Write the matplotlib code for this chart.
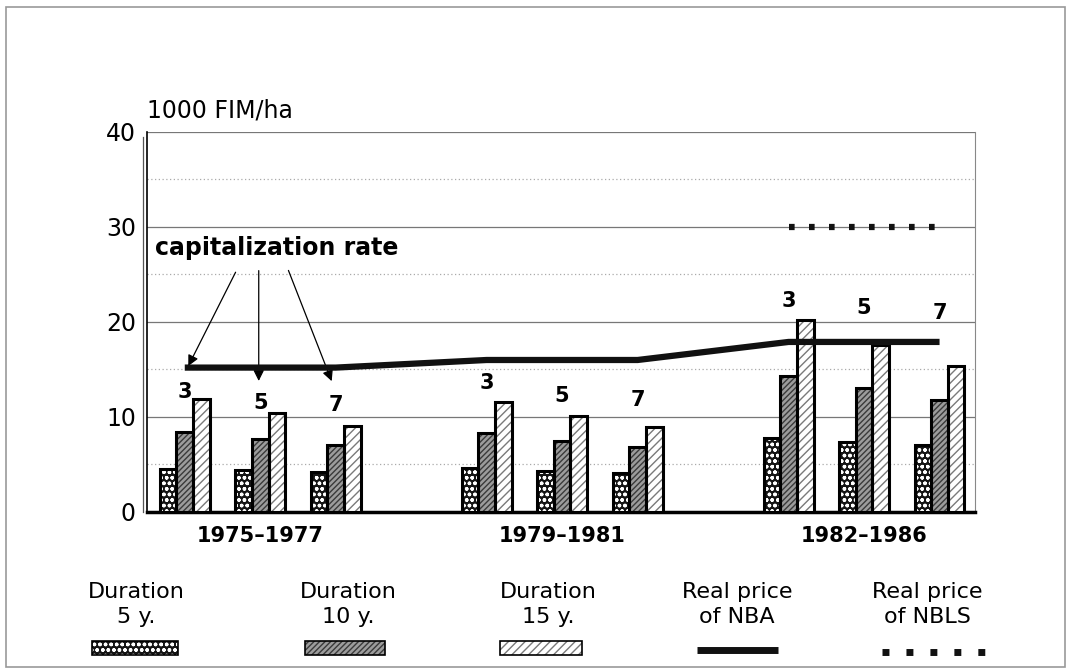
import numpy as np
import matplotlib.pyplot as plt
from matplotlib.patches import Rectangle
from matplotlib.lines import Line2D

# slot positions of the nine bar clusters (three periods, gaps between)
slots = [0, 1, 2, 4, 5, 6, 8, 9, 10]
rates = ['3', '5', '7', '3', '5', '7', '3', '5', '7']
dur_5 = [4.5, 4.4, 4.2, 4.6, 4.3, 4.1, 7.8, 7.4, 7.1]
dur_10 = [8.4, 7.7, 7.1, 8.3, 7.5, 6.8, 14.3, 13.0, 11.8]
dur_15 = [11.9, 10.4, 9.1, 11.6, 10.1, 8.9, 20.2, 17.6, 15.4]
label_y = [12.6, 11.5, 11.3, 13.6, 12.2, 11.8, 22.2, 21.5, 20.9]

nba_x = [0, 2, 4, 6, 8, 10]
nba_y = [15.2, 15.2, 16.0, 16.0, 17.9, 17.9]
nbls_x = [8, 9.95]
nbls_y = [30, 30]

periods = ['1975\u20131977', '1979\u20131981', '1982\u20131986']
period_pos = [1, 5, 9]

plt.rcParams['font.family'] = ['DejaVu Sans']

fig = plt.figure(figsize=(10.67, 6.69), dpi=100)
ax = fig.add_axes([0.1378, 0.2347, 0.776, 0.568])

w = 0.22
x = np.array(slots, dtype=float)
styles = [
    (dur_5, -w, '#151515', 'white', 'ooo'),
    (dur_10, 0, '#9c9c9c', '#3a3a3a', '//////'),
    (dur_15, w, 'white', '#7a7a7a', '////'),
]
for vals, off, face, hc, hatch in styles:
    ax.bar(x + off, vals, width=w, color=face, edgecolor=hc, hatch=hatch,
           linewidth=0, zorder=3)
    ax.bar(x + off, vals, width=w, fill=False, edgecolor='black',
           linewidth=2.2, zorder=4)

# grid
for g in [10, 20, 30, 40]:
    ax.axhline(g, color='#777777', lw=0.9, zorder=1)
for g in [5, 15, 25, 35]:
    ax.axhline(g, color='#aaaaaa', lw=0.9, ls=(0, (1, 2)), zorder=1)

ax.plot(nba_x, nba_y, color='#111111', lw=4.5, zorder=5, solid_capstyle='butt')
ax.plot(nbls_x, nbls_y, color='#111111', lw=4.5, ls=(0, (0.9, 2.3)), zorder=5)

for xs, r, ly in zip(slots, rates, label_y):
    ax.text(xs, ly, r, ha='center', va='center', fontsize=15,
            fontweight='bold', zorder=6)

ax.text(-0.4, 27.8, 'capitalization rate', fontsize=17, fontweight='bold',
        va='center', ha='left', zorder=6)
arrow_kw = dict(arrowstyle='-|>', color='black', lw=0.9, mutation_scale=16)
ax.annotate('', xy=(0.03, 15.1), xytext=(0.69, 25.5), arrowprops=arrow_kw)
ax.annotate('', xy=(0.98, 13.5), xytext=(0.98, 25.7), arrowprops=arrow_kw)
ax.annotate('', xy=(1.96, 13.5), xytext=(1.36, 25.7), arrowprops=arrow_kw)

ax.set_xlim(-0.5, 10.47)
ax.set_ylim(0, 40)
ax.set_yticks([0, 10, 20, 30, 40])
ax.tick_params(axis='y', labelsize=17, length=0, pad=8)
ax.set_xticks(period_pos)
ax.set_xticklabels(periods, fontsize=15, fontweight='bold')
ax.tick_params(axis='x', length=0, pad=10)
ax.spines['top'].set_visible(False)
ax.spines['right'].set_color('#888888')
ax.spines['left'].set_linewidth(1.2)
ax.spines['bottom'].set_linewidth(2.5)

# second thin line left of the value axis
fig.lines.append(Line2D([143 / 1067] * 2, [1 - 512 / 669, 1 - 137 / 669],
                        transform=fig.transFigure, color='#555555', lw=0.9))

fig.text(0.138, 0.835, '1000 FIM/ha', fontsize=17, ha='left', va='center')

# legend drawn at the bottom
leg_items = [
    (0.128, 'Duration\n5 y.'),
    (0.326, 'Duration\n10 y.'),
    (0.514, 'Duration\n15 y.'),
    (0.691, 'Real price\nof NBA'),
    (0.869, 'Real price\nof NBLS'),
]
for cx, txt in leg_items:
    fig.text(cx, 1 - 582 / 669, txt, ha='center', va='top', fontsize=16,
             linespacing=1.3)

patch_y = 1 - 655 / 669
patch_h = 14 / 669
for (vals, off, face, hc, hatch), (x0, x1) in zip(styles, [(92, 178), (305, 385), (500, 582)]):
    fig.patches.append(Rectangle((x0 / 1067, patch_y), (x1 - x0) / 1067, patch_h,
                                 transform=fig.transFigure, facecolor=face,
                                 edgecolor=hc, hatch=hatch, linewidth=0))
    fig.patches.append(Rectangle((x0 / 1067, patch_y), (x1 - x0) / 1067, patch_h,
                                 transform=fig.transFigure, fill=False,
                                 edgecolor='black', linewidth=1.2))
fig.lines.append(Line2D([697 / 1067, 778 / 1067], [1 - 650 / 669] * 2,
                        transform=fig.transFigure, color='#111111', lw=5,
                        solid_capstyle='butt'))
fig.lines.append(Line2D([882 / 1067, 986 / 1067], [1 - 652 / 669] * 2,
                        transform=fig.transFigure, color='#111111', lw=5,
                        ls=(0, (1, 2.45))))

# outer frame
fig.patches.append(Rectangle((6 / 1067, 2 / 669), 1059 / 1067, 660 / 669,
                             transform=fig.transFigure, fill=False,
                             edgecolor='#999999', linewidth=1.2))

fig.savefig('out.png', dpi=100)
